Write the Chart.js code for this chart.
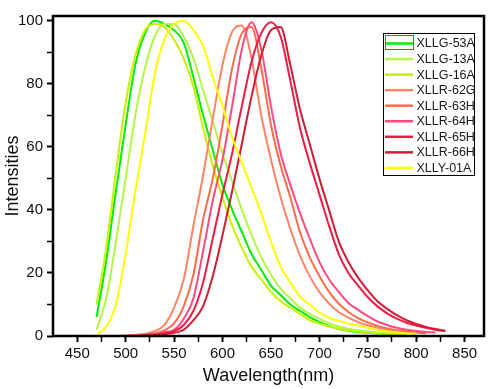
<!DOCTYPE html>
<html>
<head>
<meta charset="utf-8">
<title>Intensities vs Wavelength</title>
<script src="https://cdn.jsdelivr.net/npm/chart.js@4.4.1/dist/chart.umd.min.js"></script>
<style>
    html, body { margin: 0; padding: 0; background: #fff; }
    #spectraChart { display: block; }
</style>
</head>
<body>
<canvas id="spectraChart" width="504" height="389"></canvas>
<script>
// ---- DỮ LIỆU ----
// Bước sóng (nm)
var wavelength = [470, 480, 490, 500, 510, 520, 530, 540, 550, 560, 570, 580, 590, 600, 610, 620, 630, 640, 650,
    660, 670, 680, 690, 700, 710, 720, 730, 740, 750, 760, 770, 780, 790, 800, 810, 820, 830];

// Cường độ từng mẫu (null = không đo)
var xllg53A = [6, 24, 46, 67, 86, 96, 100, 99, 97, 93, 82, 70, 59, 48, 40, 33, 26, 21, 16, 13, 10, 8, 6, 4.5,
    3.2, 2.2, 1.7, 1.3, 1, 0.8, 0.6, 0.5, 0.4, null, null, null, null];
var xllg13A = [2, 12, 30, 50, 70, 85, 95, 99, 99, 95, 88, 78, 68, 58, 49, 40, 32, 25, 19.5, 15, 12, 9, 7, 5.5,
    4, 3, 2.3, 1.8, 1.4, 1.1, 0.9, 0.7, 0.5, null, null, null, null];
var xllg16A = [10, 28, 52, 74, 89, 97, 99, 98, 94, 88, 79, 66, 54, 44, 35, 28, 22, 18, 14, 11, 9, 7, 5, 4,
    3, 2.3, 1.8, 1.4, 1.1, 0.9, 0.7, 0.6, 0.5, null, null, null, null];
var xllr62G = [null, 0, 0, 0.1, 0.3, 0.7, 1.5, 3.5, 9, 18, 35, 51, 69, 86, 96.5, 98.5, 88, 70, 56, 44, 34, 25.5,
    19, 14, 10.3, 7.6, 5.8, 4.4, 3.4, 2.6, 2, 1.5, 1.1, 0.8, null, null, null];
var xllr63H = [null, 0, 0, 0.1, 0.2, 0.4, 0.8, 1.8, 4, 9.5, 19.5, 37, 50, 67, 85, 96, 98, 85, 67, 54, 44, 33,
    25, 19, 14, 10.3, 7.6, 5.7, 4.3, 3.2, 2.4, 1.8, 1.4, 1.1, 0.9, null, null];
var xllr64H = [null, 0, 0, 0, 0.1, 0.3, 0.6, 1.2, 2, 5.5, 12, 27, 43, 56, 73, 91, 99.5, 91, 73, 58, 48, 39, 31,
    23.5, 18, 14, 10.5, 8.3, 6.3, 4.6, 3.5, 2.6, 2, 1.6, 1.3, 1.1, null];
var xllr65H = [null, 0, 0, 0, 0, 0.2, 0.4, 0.8, 1.5, 3.5, 8, 17, 31, 45, 58, 73, 87, 96, 99.5, 95, 81, 66, 55,
    45, 35, 26, 20, 16, 12.3, 9.4, 7.2, 5.5, 4.2, 3.3, 2.6, 2, 1.5];
var xllr66H = [null, 0, 0, 0, 0, 0.1, 0.3, 0.5, 1, 2, 5, 9.5, 19, 32, 46, 61, 76, 89, 97, 98, 86, 72, 61, 50,
    40, 30, 23.5, 18.5, 14.5, 11, 8.6, 6.6, 5, 3.8, 2.9, 2.2, 1.7];
var xlly01A = [0.3, 3, 10, 26, 46, 64, 83, 94, 99, 100, 97, 92, 82, 73, 63, 55, 47, 39, 30, 22, 17, 12.5, 10,
    7.5, 5.8, 4.8, 4, 3.3, 2.6, 2, 1.5, 1.2, 0.9, 0.7, null, null, null];

var seriesNames = ["XLLG-53A", "XLLG-13A", "XLLG-16A", "XLLR-62G", "XLLR-63H", "XLLR-64H", "XLLR-65H", "XLLR-66H", "XLLY-01A"];
var seriesValues = [xllg53A, xllg13A, xllg16A, xllr62G, xllr63H, xllr64H, xllr65H, xllr66H, xlly01A];
var seriesColors = ["#00ee00", "#b4f548", "#ccee00", "#ff8466", "#ff6a48", "#ff4a7e", "#f01a42", "#d01c34", "#ffff00"];

// Vạch chia trục
var xTickValues = [450, 475, 500, 525, 550, 575, 600, 625, 650, 675, 700, 725, 750, 775, 800, 825, 850];
var xTickLabels = [450, 500, 550, 600, 650, 700, 750, 800, 850];
var yTickValues = [0, 10, 20, 30, 40, 50, 60, 70, 80, 90, 100];
var yTickLabels = [0, 20, 40, 60, 80, 100];

// Ghép mảng thành điểm {x, y}
function toPoints(values) {
    var pts = [];
    for (var i = 0; i < wavelength.length; i++) {
        if (values[i] !== null) pts.push({ x: wavelength[i], y: values[i] });
    }
    return pts;
}

// Khung bao quanh vùng vẽ (Origin style)
var frameBox = {
    id: 'frameBox',
    afterDatasetsDraw: function (chart) {
        var a = chart.chartArea, ctx = chart.ctx;
        ctx.save();
        ctx.strokeStyle = '#000';
        ctx.lineWidth = 2.5;
        ctx.strokeRect(a.left, a.top, a.right - a.left, a.bottom - a.top);
        ctx.restore();
    }
};

// Chú thích có khung
var legendBox = {
    id: 'legendBox',
    afterDraw: function (chart) {
        var ctx = chart.ctx;
        var x0 = 383.5, y0 = 33.5, w = 91, h = 142, step = 15.55;
        ctx.save();
        ctx.fillStyle = '#fff';
        ctx.fillRect(x0, y0, w, h);
        ctx.strokeStyle = '#000';
        ctx.lineWidth = 1;
        ctx.strokeRect(x0, y0, w, h);
        ctx.font = '12.5px "Liberation Sans", Arial, sans-serif';
        ctx.textBaseline = 'middle';
        chart.data.datasets.forEach(function (ds, i) {
            var y = 43.5 + i * step;
            ctx.strokeStyle = ds.borderColor;
            ctx.lineWidth = 2.5;
            ctx.beginPath();
            ctx.moveTo(385, y);
            ctx.lineTo(413, y);
            ctx.stroke();
            ctx.fillStyle = '#1a1a1a';
            ctx.fillText(ds.label, 416.5, y + 0.5);
        });
        // ô chọn màu đỏ quanh mẫu đầu tiên
        ctx.strokeStyle = '#e2302a';
        ctx.lineWidth = 1;
        ctx.strokeRect(385.5, 35.5, 28, 14);
        ctx.restore();
    }
};

document.addEventListener("DOMContentLoaded", function () {
    var ctx = document.getElementById("spectraChart");
    var datasets = seriesNames.map(function (name, i) {
        return {
            label: name,
            data: toPoints(seriesValues[i]),
            borderColor: seriesColors[i],
            backgroundColor: seriesColors[i],
            borderWidth: 2,
            pointRadius: 0,
            cubicInterpolationMode: 'monotone',
            fill: false,
            order: seriesNames.length - i
        };
    });

    new Chart(ctx, {
        type: 'line',
        data: { datasets: datasets },
        plugins: [frameBox, legendBox],
        options: {
            responsive: false,
            animation: false,
            layout: { padding: { left: 0, right: 20, top: 16, bottom: 0 } },
            scales: {
                x: {
                    type: 'linear',
                    min: 425,
                    max: 870,
                    border: { display: false },
                    grid: {
                        drawOnChartArea: false,
                        tickLength: 6,
                        tickColor: '#000',
                        tickWidth: function (c) { return xTickLabels.indexOf(c.tick.value) >= 0 ? 2 : 1.5; }
                    },
                    afterBuildTicks: function (scale) {
                        scale.ticks = xTickValues.map(function (v) { return { value: v }; });
                    },
                    afterFit: function (scale) { scale.height = 53; },
                    ticks: {
                        autoSkip: false,
                        maxRotation: 0,
                        padding: 3,
                        color: '#111',
                        font: { family: '"Liberation Sans", Arial, sans-serif', size: 15 },
                        callback: function (v) { return xTickLabels.indexOf(v) >= 0 ? String(v) : ''; }
                    },
                    title: {
                        display: true,
                        text: 'Wavelength(nm)',
                        color: '#111',
                        padding: { top: 0, bottom: 2 },
                        font: { family: '"Liberation Sans", Arial, sans-serif', size: 18 }
                    }
                },
                y: {
                    min: 0,
                    max: 101.5,
                    border: { display: false },
                    grid: {
                        drawOnChartArea: false,
                        tickLength: 6,
                        tickColor: '#000',
                        tickWidth: function (c) { return yTickLabels.indexOf(c.tick.value) >= 0 ? 2 : 1.5; }
                    },
                    afterBuildTicks: function (scale) {
                        scale.ticks = yTickValues.map(function (v) { return { value: v }; });
                    },
                    afterFit: function (scale) { scale.width = 53; },
                    ticks: {
                        autoSkip: false,
                        padding: 4,
                        color: '#111',
                        font: { family: '"Liberation Sans", Arial, sans-serif', size: 15 },
                        callback: function (v) { return yTickLabels.indexOf(v) >= 0 ? String(v) : ''; }
                    },
                    title: {
                        display: true,
                        text: 'Intensities',
                        color: '#111',
                        padding: { top: 2, bottom: 0 },
                        font: { family: '"Liberation Sans", Arial, sans-serif', size: 18 }
                    }
                }
            },
            plugins: {
                legend: { display: false },
                tooltip: { enabled: false }
            }
        }
    });
});
</script>
</body>
</html>
